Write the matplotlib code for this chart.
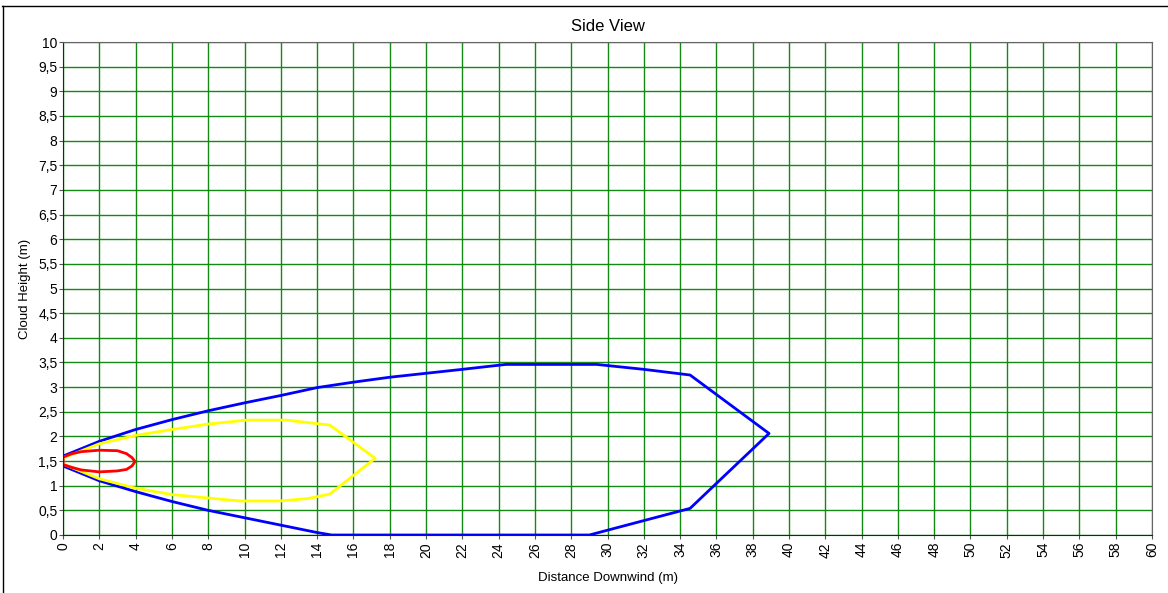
import matplotlib
matplotlib.use('Agg')
import matplotlib.pyplot as plt
from matplotlib.ticker import FuncFormatter, MultipleLocator
from matplotlib.lines import Line2D

# outer cloud contour (blue)
blue_x = [0, 2, 4, 6, 8, 10, 12, 14, 16, 18, 20, 22, 24.4, 29.4, 32, 34.55, 38.9,
          34.55, 29.0, 14.8, 14, 12, 10, 8, 6, 4, 2, 0, 0]
blue_y = [1.6, 1.9, 2.14, 2.34, 2.52, 2.68, 2.83, 2.99, 3.1, 3.2, 3.28, 3.36, 3.46, 3.46, 3.36, 3.245, 2.06,
          0.54, 0.0, 0.0, 0.05, 0.2, 0.35, 0.5, 0.68, 0.88, 1.1, 1.4, 1.6]

# middle contour (yellow)
yellow_x = [0, 2, 4, 6, 8, 10.1, 12.3, 14.7, 17.2, 14.7, 13.5, 11.96, 9.75, 8, 6, 4, 2, 0, 0]
yellow_y = [1.56, 1.85, 2.02, 2.14, 2.25, 2.33, 2.33, 2.23, 1.556, 0.83, 0.74, 0.69, 0.69, 0.75, 0.82, 0.95, 1.14, 1.44, 1.56]

# inner contour (red)
red_x = [0, 0.5, 1, 2, 3, 3.5, 3.8, 3.97, 3.8, 3.5, 3, 2, 1, 0.5, 0, 0]
red_y = [1.58, 1.65, 1.69, 1.72, 1.71, 1.65, 1.57, 1.49, 1.4, 1.33, 1.3, 1.28, 1.32, 1.37, 1.43, 1.58]

plt.rcParams['font.family'] = ['Liberation Sans', 'DejaVu Sans']

fig = plt.figure(figsize=(11.68, 5.93), dpi=100)
ax = fig.add_axes([63 / 1168, 58 / 593, (1152 - 63) / 1168, (535 - 42) / 593])

ax.plot(blue_x, blue_y, color='#0000ff', linewidth=2)
ax.plot(yellow_x, yellow_y, color='#ffff00', linewidth=2)
ax.plot(red_x, red_y, color='#ff0000', linewidth=2)

ax.set_xlim(0, 60)
ax.set_ylim(0, 10)
ax.xaxis.set_major_locator(MultipleLocator(2))
ax.yaxis.set_major_locator(MultipleLocator(0.5))

def comma_fmt(v, pos):
    s = f'{v:g}'
    return s.replace('.', ',')

ax.yaxis.set_major_formatter(FuncFormatter(comma_fmt))
ax.xaxis.set_major_formatter(FuncFormatter(comma_fmt))
ax.tick_params(axis='x', labelrotation=90, labelsize=10, length=3, color='#555555', pad=2)
ax.tick_params(axis='y', labelsize=10, length=3, color='#555555', pad=1)

ax.grid(True, color='#138a13', linewidth=1.0)
ax.set_axisbelow(True)
for side in ['left', 'bottom']:
    ax.spines[side].set_color('#222222')
for side in ['top', 'right']:
    ax.spines[side].set_color('#666666')

ax.set_title('Side View', fontsize=12, pad=8)
ax.set_xlabel('Distance Downwind (m)', fontsize=9.5, labelpad=10)
ax.set_ylabel('Cloud Height (m)', fontsize=9.5, labelpad=5)

# window border on top and left
fig.add_artist(Line2D([2 / 1168, 1], [1 - 5.5 / 593, 1 - 5.5 / 593], color='black', linewidth=1))
fig.add_artist(Line2D([2.5 / 1168, 2.5 / 1168], [0, 1 - 5.5 / 593], color='black', linewidth=1))

plt.savefig('out.png', dpi=100)
plt.close()
